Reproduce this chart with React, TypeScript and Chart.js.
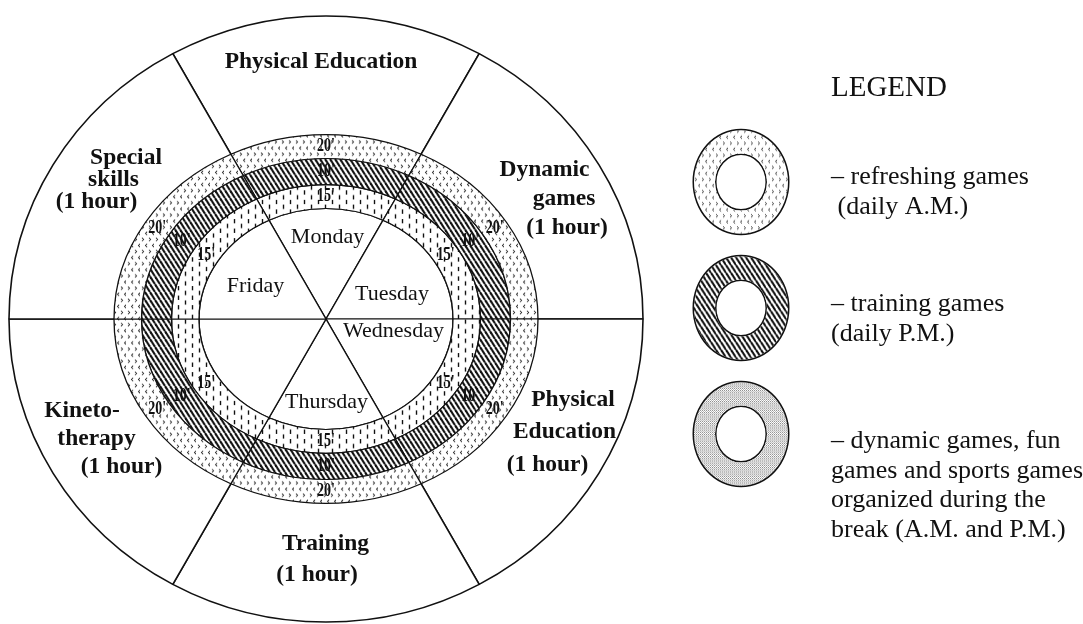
import React, { useEffect, useRef } from 'react';
import { Chart, registerables } from 'chart.js';

Chart.register(...registerables);

// ---------------- data ----------------
const SECTOR_NAMES = [
  'Physical Education',
  'Dynamic games (1 hour)',
  'Physical Education (1 hour)',
  'Training (1 hour)',
  'Kinetotherapy (1 hour)',
  'Special skills (1 hour)',
];
const SECTOR_LINES = [
  ['Physical Education'],
  ['Dynamic', 'games', '(1 hour)'],
  ['Physical', 'Education', '(1 hour)'],
  ['Training', '(1 hour)'],
  ['Kineto-', 'therapy', '(1 hour)'],
  ['Special', 'skills', '(1 hour)'],
];
// angular span of each sector as seen in the picture (degrees), clockwise from the top
const SECTOR_SPAN_DEG = [60, 60, 60, 60, 60, 60];
const DAYS = ['Monday', 'Tuesday', 'Wednesday', 'Thursday', '', 'Friday'];
const RING_NAMES = ['refreshing games', 'training games', 'break games'];
const RING_MINUTES = [20, 10, 15];
const LEGEND_TITLE = 'LEGEND';
const LEGEND_TEXT = [
  ['\u2013 refreshing games', ' (daily A.M.)'],
  ['\u2013 training games', '(daily P.M.)'],
  ['\u2013 dynamic games, fun', 'games and sports games', 'organized during the', 'break (A.M. and P.M.)'],
];

// ---------------- layout ----------------
const SERIF = '"Liberation Serif", "Times New Roman", serif';
const OUTER_R = 317;
const K_OUTER = 0.956;
const K_RINGS = 0.87;
const K_LEGEND = 1.1;
const RING_WIDTHS = [27.5, 30, 27.5];
const INNER_R = 127;
const SECTOR_TEXT_POS = [
  [[321, 67.5]],
  [[544.5, 176], [564, 205], [567, 234]],
  [[573, 406], [564.5, 438], [547.5, 471]],
  [[325.5, 550], [317, 581]],
  [[82, 417], [96.5, 445], [121.5, 473]],
  [[126, 163.5], [113.5, 186], [96.5, 208]],
];
const DAY_TEXT_POS = [[327.5, 243], [392, 300], [393.5, 337], [326.5, 408], null, [255.5, 292]];
const LEGEND_X = 831;
const LEGEND_TITLE_Y = 96;
const LEGEND_TEXT_Y = [184, 311, 448];
const LEGEND_LINE_H = 29.7;
const LEGEND_RING_CENTERS = [[741, 182], [741, 308], [741, 434]];

// ---------------- helpers ----------------
function pixelToChartAngle(deg: number, k: number) {
  const t = (deg * Math.PI) / 180;
  return (Math.atan2(Math.sin(t) / k, Math.cos(t)) * 180) / Math.PI;
}

function sectorGeometry(k: number) {
  const start = 90 + SECTOR_SPAN_DEG[0] / 2;
  const bounds = [start];
  SECTOR_SPAN_DEG.forEach((s) => bounds.push(bounds[bounds.length - 1] - s));
  const cb = bounds.map((b) => pixelToChartAngle(b, k));
  for (let i = 1; i < cb.length; i++) {
    while (cb[i] > cb[i - 1]) cb[i] -= 360;
  }
  const values = cb.slice(1).map((b, i) => cb[i] - b);
  return { values, rotation: 90 - cb[0] };
}

// tile drawn in "seen" pixels, pre-stretched by 1/k so that it looks right after the ellipse squash
function makePattern(w: number, h: number, k: number, draw: (c: CanvasRenderingContext2D) => void) {
  const cv = document.createElement('canvas');
  const H = Math.round(h / k);
  cv.width = w;
  cv.height = H;
  const c = cv.getContext('2d') as CanvasRenderingContext2D;
  c.fillStyle = '#fff';
  c.fillRect(0, 0, w, H);
  c.scale(1, H / h);
  draw(c);
  return c.createPattern(cv, 'repeat') as CanvasPattern;
}

function makePatterns(k: number) {
  const chevrons = makePattern(14, 12, k, (c) => {
    c.strokeStyle = '#222';
    c.lineWidth = 0.9;
    const lt = (x: number, y: number) => {
      c.beginPath(); c.moveTo(x + 1.6, y - 1.6); c.lineTo(x, y); c.lineTo(x + 1.6, y + 1.6); c.stroke();
    };
    const gt = (x: number, y: number) => {
      c.beginPath(); c.moveTo(x, y - 1.6); c.lineTo(x + 1.6, y); c.lineTo(x, y + 1.6); c.stroke();
    };
    gt(2, 3); gt(9, 3); lt(5.5, 9); lt(12.5, 9);
  });
  const hatch = makePattern(5, 8, k, (c) => {
    c.strokeStyle = '#111';
    c.lineWidth = 2.1;
    for (const o of [-5, 0, 5]) {
      c.beginPath(); c.moveTo(o, 0); c.lineTo(o + 5, 8); c.stroke();
    }
  });
  const dashes = makePattern(14, 10, k, (c) => {
    c.strokeStyle = '#111';
    c.lineWidth = 1.4;
    c.beginPath(); c.moveTo(3.5, 0.5); c.lineTo(3.5, 5); c.stroke();
    c.beginPath(); c.moveTo(10.5, 5.5); c.lineTo(10.5, 10); c.stroke();
  });
  const stipple = makePattern(2, 2, 1, (c) => {
    c.fillStyle = '#888'; c.fillRect(0, 0, 1, 1);
    c.fillStyle = '#bbb'; c.fillRect(1, 1, 1, 1);
  });
  return { chevrons, hatch, dashes, stipple };
}

function ellipsePlugin(id: string, k: number, drawText?: (chart: any, cx: number, cy: number) => void) {
  return {
    id,
    beforeDatasetsDraw(chart: any) {
      const a = chart.getDatasetMeta(0).data[0];
      const ctx = chart.ctx;
      ctx.save();
      ctx.translate(a.x, a.y);
      ctx.scale(1, k);
      ctx.translate(-a.x, -a.y);
    },
    afterDatasetsDraw(chart: any) {
      chart.ctx.restore();
    },
    afterDraw(chart: any) {
      if (!drawText) return;
      const a = chart.getDatasetMeta(0).data[0];
      chart.ctx.save();
      drawText(chart, a.x, a.y);
      chart.ctx.restore();
    },
  };
}

const baseOptions = {
  animation: false as const,
  responsive: false,
  events: [] as any[],
  plugins: { legend: { display: false }, tooltip: { enabled: false } },
};

export default function App() {
  const outerRef = useRef<HTMLCanvasElement>(null);
  const ringRef = useRef<HTMLCanvasElement>(null);
  const leg0 = useRef<HTMLCanvasElement>(null);
  const leg1 = useRef<HTMLCanvasElement>(null);
  const leg2 = useRef<HTMLCanvasElement>(null);

  useEffect(() => {
    const patsB = makePatterns(K_RINGS);
    const patsL = makePatterns(K_LEGEND);
    const charts: Chart[] = [];
    const gA = sectorGeometry(K_OUTER);
    const gB = sectorGeometry(K_RINGS);

    // outer disc with sector labels and legend text
    charts.push(
      new Chart(outerRef.current as HTMLCanvasElement, {
        type: 'pie',
        data: {
          labels: SECTOR_NAMES,
          datasets: [
            {
              data: [...gA.values],
              backgroundColor: '#fff',
              borderColor: '#111',
              borderWidth: 1.6,
            },
          ],
        },
        options: {
          ...baseOptions,
          radius: OUTER_R,
          rotation: gA.rotation,
          layout: { padding: { left: 0, top: 0, bottom: 0, right: 1083 - 652 } },
        } as any,
        plugins: [
          ellipsePlugin('outerEllipse', K_OUTER, (chart) => {
            const ctx = chart.ctx as CanvasRenderingContext2D;
            ctx.fillStyle = '#111';
            ctx.textBaseline = 'alphabetic';
            ctx.textAlign = 'center';
            ctx.font = `bold 23.5px ${SERIF}`;
            SECTOR_LINES.forEach((lines, i) =>
              lines.forEach((t, j) => {
                const [x, y] = SECTOR_TEXT_POS[i][j];
                ctx.fillText(t, x, y);
              })
            );
            ctx.textAlign = 'left';
            ctx.font = `29px ${SERIF}`;
            ctx.fillText(LEGEND_TITLE, LEGEND_X, LEGEND_TITLE_Y);
            ctx.font = `26px ${SERIF}`;
            LEGEND_TEXT.forEach((lines, i) =>
              lines.forEach((t, j) => ctx.fillText(t, LEGEND_X, LEGEND_TEXT_Y[i] + j * LEGEND_LINE_H))
            );
          }),
        ],
      })
    );

    // patterned rings + days disc
    const ringFills = [patsB.chevrons, patsB.hatch, patsB.dashes];
    const ringSets: any[] = RING_NAMES.map((name, i) => ({
      label: name,
      data: [...gB.values],
      backgroundColor: ringFills[i],
      borderColor: '#111',
      borderWidth: 1.3,
      weight: RING_WIDTHS[i],
    }));
    ringSets.push({
      label: 'days',
      data: [...gB.values],
      backgroundColor: '#fff',
      borderColor: '#111',
      borderWidth: 1.4,
      weight: INNER_R,
    });
    const ringTotal = RING_WIDTHS.reduce((a, b) => a + b, 0) + INNER_R;
    charts.push(
      new Chart(ringRef.current as HTMLCanvasElement, {
        type: 'doughnut',
        data: { labels: SECTOR_NAMES, datasets: ringSets },
        options: { ...baseOptions, cutout: 0, radius: ringTotal, rotation: gB.rotation } as any,
        plugins: [
          ellipsePlugin('ringEllipse', K_RINGS, (chart, cx, cy) => {
            const ctx = chart.ctx as CanvasRenderingContext2D;
            ctx.fillStyle = '#111';
            ctx.textAlign = 'center';
            ctx.textBaseline = 'alphabetic';
            ctx.font = `22px ${SERIF}`;
            DAYS.forEach((d, i) => {
              const p = DAY_TEXT_POS[i];
              if (d && p) ctx.fillText(d, p[0], p[1]);
            });
            ctx.textBaseline = 'middle';
            ctx.font = `bold 19px ${SERIF}`;
            RING_MINUTES.forEach((m, d) => {
              chart.getDatasetMeta(d).data.forEach((arc: any) => {
                const p = arc.getCenterPoint();
                ctx.save();
                ctx.translate(p.x, cy + (p.y - cy) * K_RINGS);
                ctx.scale(0.74, 1);
                ctx.fillText(`${m}'`, 0, 0);
                ctx.restore();
              });
            });
          }),
        ],
      })
    );

    // legend rings
    const legFills = [patsL.chevrons, patsL.hatch, patsL.stipple];
    [leg0, leg1, leg2].forEach((ref, i) => {
      charts.push(
        new Chart(ref.current as HTMLCanvasElement, {
          type: 'doughnut',
          data: {
            labels: [RING_NAMES[i]],
            datasets: [
              { data: [1], backgroundColor: '#111', borderWidth: 0, weight: 1.5 },
              { data: [1], backgroundColor: legFills[i], borderWidth: 0, weight: 21 },
              { data: [1], backgroundColor: '#111', borderWidth: 0, weight: 1.5 },
            ],
          },
          options: { ...baseOptions, cutout: '50.5%', radius: 48.5 } as any,
          plugins: [ellipsePlugin('legEllipse' + i, K_LEGEND)],
        })
      );
    });

    return () => charts.forEach((c) => c.destroy());
  }, []);

  const legRefs = [leg0, leg1, leg2];
  return (
    <div
      style={{
        position: 'fixed',
        left: 0,
        top: 0,
        width: 1083,
        height: 624,
        overflow: 'hidden',
        background: '#fff',
      }}
    >
      <canvas
        ref={outerRef}
        width={1083}
        height={638}
        style={{ position: 'absolute', left: 0, top: 0, width: 1083, height: 638 }}
      />
      <canvas
        ref={ringRef}
        width={652}
        height={638}
        style={{ position: 'absolute', left: 0, top: 0, width: 652, height: 638 }}
      />
      {legRefs.map((r, i) => (
        <canvas
          key={i}
          ref={r}
          width={110}
          height={120}
          style={{
            position: 'absolute',
            left: LEGEND_RING_CENTERS[i][0] - 55,
            top: LEGEND_RING_CENTERS[i][1] - 60,
            width: 110,
            height: 120,
          }}
        />
      ))}
    </div>
  );
}
